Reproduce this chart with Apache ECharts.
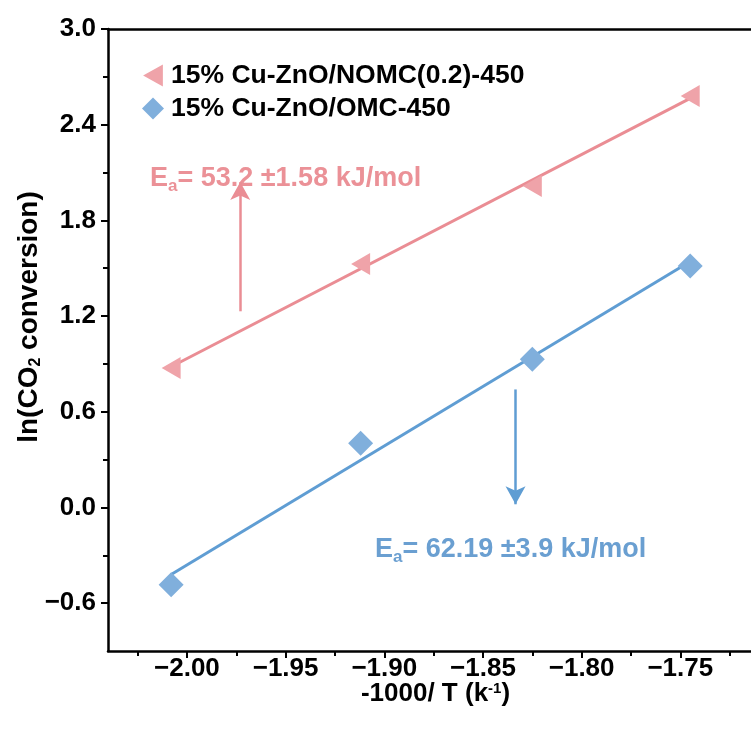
<!DOCTYPE html>
<html>
<head>
<meta charset="utf-8">
<script src="https://cdn.jsdelivr.net/npm/echarts@6/dist/echarts.min.js"></script>
<style>
  html, body { margin: 0; padding: 0; background: #fff; }
  #chart { width: 751px; height: 731px; }
</style>
</head>
<body>
<div id="chart"></div>
<script>
// -1000/T for 225, 250, 275, 300 °C
const xVals = [-2.008, -1.912, -1.825, -1.745]
const yNomc = [0.875, 1.526, 2.016, 2.58]
const yOmc = [-0.484, 0.403, 0.93, 1.514]

const xMajor = [-2.00, -1.95, -1.90, -1.85, -1.80, -1.75]
const xMinor = [-2.025, -1.975, -1.925, -1.875, -1.825, -1.775, -1.725]
const yMajor = [-0.6, 0.0, 0.6, 1.2, 1.8, 2.4, 3.0]
const yMinor = [-0.3, 0.3, 0.9, 1.5, 2.1, 2.7]

const nameNomc = '15% Cu-ZnO/NOMC(0.2)-450'
const nameOmc = '15% Cu-ZnO/OMC-450'

const RED = '#EFA3A9'
const RED_LINE = '#EA8D94'
const BLUE = '#80AFDC'
const BLUE_LINE = '#5F9DD3'
const FONT = 'Liberation Sans, Arial, sans-serif'

// least squares fit, drawn between first and last point
function fit(xs, ys) {
  const n = xs.length
  const mx = xs.reduce((a, b) => a + b, 0) / n
  const my = ys.reduce((a, b) => a + b, 0) / n
  let sxy = 0, sxx = 0
  xs.forEach((x, i) => { sxy += (x - mx) * (ys[i] - my); sxx += (x - mx) * (x - mx) })
  const k = sxy / sxx
  const b = my - k * mx
  return [xs[0], xs[n - 1]].map(x => [x, k * x + b])
}

const minus = s => s.replace('-', '\u2212')

const chart = echarts.init(document.getElementById('chart'))

const axisLine = { onZero: false, lineStyle: { color: '#000', width: 2.5 } }

chart.setOption({
  animation: false,
  grid: { left: 108, top: 29, width: 671, height: 622, outerBoundsMode: 'none', containLabel: false },
  legend: {
    orient: 'vertical',
    left: 137,
    top: 57,
    itemWidth: 22,
    itemHeight: 22,
    itemGap: 6,
    data: [nameNomc, nameOmc],
    textStyle: { fontFamily: FONT, fontWeight: 'bold', fontSize: 26.5, color: '#000', padding: [0, 0, 0, 2] }
  },
  xAxis: [
    {
      type: 'value', min: -2.04, max: -1.70, position: 'bottom',
      axisLine: axisLine,
      splitLine: { show: false },
      axisTick: { inside: false, length: 7, lineStyle: { width: 2, color: '#000' }, customValues: xMajor },
      axisLabel: {
        customValues: xMajor, margin: 5,
        formatter: v => minus(v.toFixed(2)),
        fontFamily: FONT, fontWeight: 'bold', fontSize: 26, color: '#000'
      },
      name: '-1000/ T (k{sup|-1})',
      nameLocation: 'middle',
      nameGap: 30,
      nameMoveOverlap: false,
      nameTextStyle: {
        fontFamily: FONT, fontWeight: 'bold', fontSize: 26, color: '#000',
        padding: [0, 16, 0, 0],
        rich: { sup: { fontFamily: FONT, fontWeight: 'bold', fontSize: 15, color: '#000', verticalAlign: 'top', padding: [0, 0, 10, 0] } }
      }
    },
    {
      type: 'value', min: -2.04, max: -1.70, position: 'bottom',
      axisLine: { show: false, onZero: false },
      splitLine: { show: false },
      axisTick: { length: 5, lineStyle: { width: 2, color: '#000' }, customValues: xMinor },
      axisLabel: { show: false }
    },
    {
      type: 'value', min: -2.04, max: -1.70, position: 'top',
      axisLine: axisLine,
      axisTick: { show: false }, axisLabel: { show: false }, splitLine: { show: false }
    }
  ],
  yAxis: [
    {
      type: 'value', min: -0.9, max: 3.0, position: 'left',
      axisLine: axisLine,
      splitLine: { show: false },
      axisTick: { inside: false, length: 7, lineStyle: { width: 2, color: '#000' }, customValues: yMajor },
      axisLabel: {
        customValues: yMajor, margin: 12,
        formatter: v => minus(v.toFixed(1)),
        fontFamily: FONT, fontWeight: 'bold', fontSize: 26, color: '#000'
      },
      name: 'ln(CO{sub|2} conversion)',
      nameLocation: 'middle',
      nameGap: 64,
      nameMoveOverlap: false,
      nameTextStyle: {
        fontFamily: FONT, fontWeight: 'bold', fontSize: 28, color: '#000',
        padding: [0, 0, 0, 46],
        rich: { sub: { fontFamily: FONT, fontWeight: 'bold', fontSize: 16, color: '#000', verticalAlign: 'bottom', padding: [13, 0, 0, 0] } }
      }
    },
    {
      type: 'value', min: -0.9, max: 3.0, position: 'left',
      axisLine: { show: false, onZero: false },
      splitLine: { show: false },
      axisTick: { length: 5, lineStyle: { width: 2, color: '#000' }, customValues: yMinor },
      axisLabel: { show: false }
    }
  ],
  series: [
    {
      name: 'fit-nomc', type: 'line', data: fit(xVals, yNomc),
      symbol: 'none', lineStyle: { color: RED_LINE, width: 3 }, z: 2,
      markLine: {
        silent: true, symbol: ['none', 'arrow'], symbolSize: [15, 18],
        label: { show: false },
        lineStyle: { color: RED_LINE, width: 2.5, type: 'solid' },
        data: [[{ coord: [-1.973, 1.23] }, { coord: [-1.973, 2.04] }]]
      }
    },
    {
      name: 'fit-omc', type: 'line', data: fit(xVals, yOmc),
      symbol: 'none', lineStyle: { color: BLUE_LINE, width: 3 }, z: 2,
      markLine: {
        silent: true, symbol: ['none', 'arrow'], symbolSize: [15, 18],
        label: { show: false },
        lineStyle: { color: BLUE_LINE, width: 2.5, type: 'solid' },
        data: [[{ coord: [-1.8335, 0.74] }, { coord: [-1.8335, 0.02] }]]
      }
    },
    {
      name: nameNomc, type: 'scatter',
      data: xVals.map((x, i) => [x, yNomc[i]]),
      symbol: 'path://M0,10 L18,0 L18,20 Z', symbolSize: [19, 22],
      itemStyle: { color: RED, opacity: 1 }, z: 3
    },
    {
      name: nameOmc, type: 'scatter',
      data: xVals.map((x, i) => [x, yOmc[i]]),
      symbol: 'diamond', symbolSize: [25, 25],
      itemStyle: { color: BLUE, opacity: 1 }, z: 3
    }
  ],
  graphic: [
    {
      type: 'text', left: 150, top: 165,
      style: {
        text: '{e|E}{s|a}{e|= 53.2 \u00b11.58 kJ/mol}',
        rich: {
          e: { fontFamily: FONT, fontWeight: 'bold', fontSize: 27, fill: '#EB9197' },
          s: { fontFamily: FONT, fontWeight: 'bold', fontSize: 17, fill: '#EB9197', verticalAlign: 'bottom', padding: [15, 0, 0, 0] }
        }
      }
    },
    {
      type: 'text', left: 375, top: 536,
      style: {
        text: '{e|E}{s|a}{e|= 62.19 \u00b13.9 kJ/mol}',
        rich: {
          e: { fontFamily: FONT, fontWeight: 'bold', fontSize: 27, fill: '#6A9FD1' },
          s: { fontFamily: FONT, fontWeight: 'bold', fontSize: 17, fill: '#6A9FD1', verticalAlign: 'bottom', padding: [15, 0, 0, 0] }
        }
      }
    }
  ]
})

window.addEventListener('resize', () => chart.resize())
</script>
</body>
</html>
